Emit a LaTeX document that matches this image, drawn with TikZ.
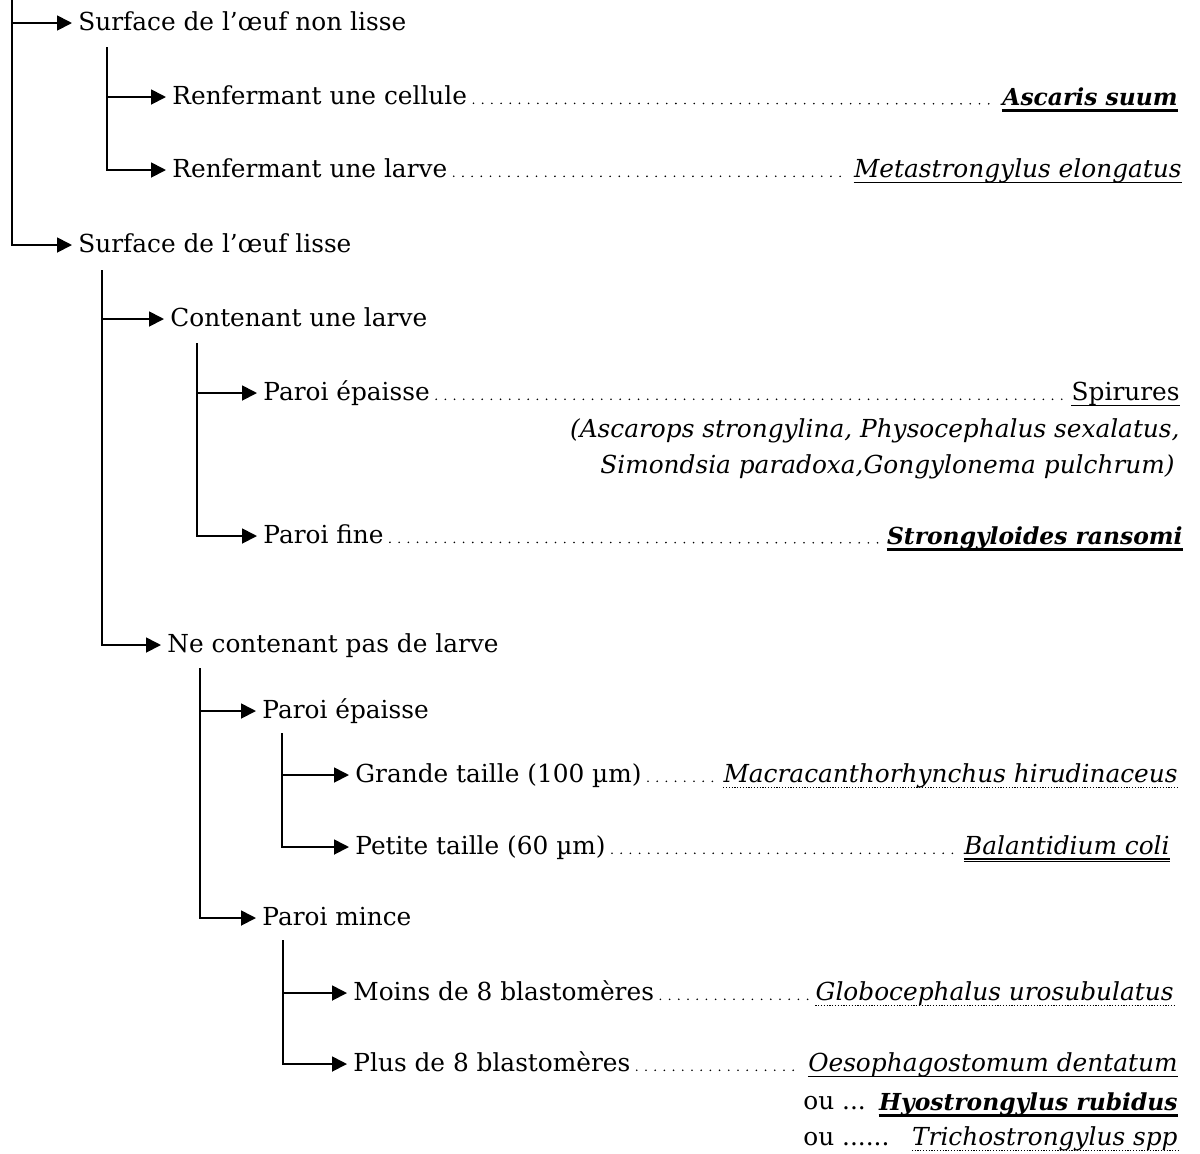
\documentclass[tikz,border=0pt]{standalone}
\usepackage{fontspec}
\setmainfont{DejaVu Serif}
\usetikzlibrary{arrows.meta,calc}
\newcommand\fsz{\fontsize{12.4pt}{15pt}\selectfont}
\newcommand\fszb{\fontsize{11.7pt}{15pt}\selectfont}
\tikzset{
  txt/.style={inner xsep=1pt, inner ysep=0pt, text height=0.75em, text depth=0pt, font=\fsz},
  lab/.style={txt, anchor=west},
  spn/.style={txt, anchor=east},
  sp/.style={txt, anchor=east, font=\fsz\itshape},
  spb/.style={txt, anchor=east, text height=8pt, font=\fszb\bfseries\itshape},
  conn/.style={line width=0.9pt},
  arr/.style={conn, -{Triangle[length=7.5pt,width=7.5pt]}, shorten >=2pt},
  leader/.style={line width=0.9pt, line cap=round, dash pattern=on 0pt off 4.6pt},
  ulthin/.style={line width=0.6pt},
  ulthick/.style={line width=1.4pt},
  uldot/.style={line width=0.6pt, dash pattern=on 0.6pt off 0.8pt},
}
\newcommand\myul[2]{\draw[#1] ([yshift=-2.6pt,xshift=1pt]#2.base west) -- ([yshift=-2.6pt,xshift=-1pt]#2.base east);}
\newcommand\mydul[1]{%
  \draw[ulthin] ([yshift=-2.2pt,xshift=1pt]#1.base west) -- ([yshift=-2.2pt,xshift=-1pt]#1.base east);
  \draw[ulthin] ([yshift=-3.6pt,xshift=1pt]#1.base west) -- ([yshift=-3.6pt,xshift=-1pt]#1.base east);}
\newcommand\lead[2]{\draw[leader] ([yshift=0.6pt,xshift=2pt]#1.base east) -- ([yshift=0.6pt,xshift=-2pt]#2.base west);}
\begin{document}
\begin{tikzpicture}[x=0.5pt,y=-0.5pt]
\useasboundingbox (0,0) rectangle (1200,1153);

% branch points
\coordinate (b0) at (12,0);
\coordinate (b1) at (107,47);
\coordinate (b2) at (102,270);
\coordinate (b21) at (197,343);
\coordinate (b22) at (200,668);
\coordinate (b221) at (282,733);
\coordinate (b222) at (283,940);

% labels
\node[lab] (n1) at (76,23) {Surface de l’œuf non lisse};
\node[lab] (n2) at (76,245) {Surface de l’œuf lisse};
\node[lab] (n11) at (170,97) {Renfermant une cellule};
\node[lab] (n12) at (170,170) {Renfermant une larve};
\node[lab] (n21) at (168,319) {Contenant une larve};
\node[lab] (n22) at (165,645) {Ne contenant pas de larve};
\node[lab] (n211) at (261,393) {Paroi épaisse};
\node[lab] (n212) at (261,536) {Paroi fine};
\node[lab] (n221) at (260,711) {Paroi épaisse};
\node[lab] (n222) at (260,918) {Paroi mince};
\node[lab] (n2211) at (353,775) {Grande taille (100 µm)};
\node[lab] (n2212) at (353,847) {Petite taille (60 µm)};
\node[lab] (n2221) at (351,993) {Moins de 8 blastomères};
\node[lab] (n2222) at (351,1064) {Plus de 8 blastomères};

% species
\node[spb] (s11) at (1180,97) {Ascaris suum};
\node[sp] (s12) at (1184,170) {Metastrongylus elongatus};
\node[spn] (s211) at (1182,393) {Spirures};
\node[sp] (s211a) at (1182,430) {(Ascarops strongylina, Physocephalus sexalatus,};
\node[sp] (s211b) at (1177,466) {Simondsia paradoxa,Gongylonema pulchrum)};
\node[spb] (s212) at (1185,536) {Strongyloides ransomi};
\node[sp] (s2211) at (1180,775) {Macracanthorhynchus hirudinaceus};
\node[sp] (s2212) at (1172,847) {Balantidium coli};
\node[sp] (s2221) at (1176,993) {Globocephalus urosubulatus};
\node[sp] (s2222) at (1180,1064) {Oesophagostomum dentatum};
\node[lab] (ou1) at (801,1102) {ou ...};
\node[spb] (s2222a) at (1180,1102) {Hyostrongylus rubidus};
\node[lab] (ou2) at (801,1138) {ou ......};
\node[sp] (s2222b) at (1180,1138) {Trichostrongylus spp};

% connectors
\draw[arr] (b0) |- (n1.west);
\draw[arr] (b0) |- (n2.west);
\draw[arr] (b1) |- (n11.west);
\draw[arr] (b1) |- (n12.west);
\draw[arr] (b2) |- (n21.west);
\draw[arr] (b2) |- (n22.west);
\draw[arr] (b21) |- (n211.west);
\draw[arr] (b21) |- (n212.west);
\draw[arr] (b22) |- (n221.west);
\draw[arr] (b22) |- (n222.west);
\draw[arr] (b221) |- (n2211.west);
\draw[arr] (b221) |- (n2212.west);
\draw[arr] (b222) |- (n2221.west);
\draw[arr] (b222) |- (n2222.west);

% leaders
\lead{n11}{s11}
\lead{n12}{s12}
\lead{n211}{s211}
\lead{n212}{s212}
\lead{n2211}{s2211}
\lead{n2212}{s2212}
\lead{n2221}{s2221}
\lead{n2222}{s2222}

% underlines
\myul{ulthick}{s11}
\myul{ulthin}{s12}
\myul{ulthin}{s211}
\myul{ulthick}{s212}
\myul{uldot}{s2211}
\mydul{s2212}
\myul{uldot}{s2221}
\myul{ulthin}{s2222}
\myul{ulthick}{s2222a}
\myul{uldot}{s2222b}
\end{tikzpicture}
\end{document}
